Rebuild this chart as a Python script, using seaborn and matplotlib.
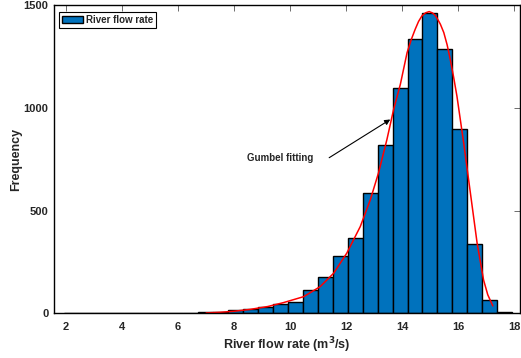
import numpy as np
import pandas as pd
import matplotlib
matplotlib.use("Agg")
import matplotlib.pyplot as plt
import seaborn as sns

# ==========================================
# data
# ==========================================
bin_lo = 1.92
bin_hi = 17.92
n_bins = 30
counts = [0, 0, 1, 0, 0, 0, 1, 1, 2, 4,
          8, 15, 21, 32, 45, 54, 114, 176, 280, 364,
          585, 818, 1094, 1333, 1463, 1288, 899, 336, 63, 8]

# Gumbel fitting curve
fit_x = [7.0, 7.5, 8.0, 8.57, 9.2, 9.76, 10.48, 11.07, 11.55, 12.02,
         12.5, 12.86, 13.15, 13.45, 13.69, 13.93, 14.17, 14.32, 14.46, 14.58,
         14.70, 14.83, 14.96, 15.08, 15.17, 15.24, 15.36, 15.48, 15.60, 15.71,
         15.83, 15.95, 16.19, 16.43, 16.67, 16.90, 17.05, 17.23]
fit_y = [2, 5, 10, 19, 33, 52, 81, 130, 195, 293,
         422, 553, 683, 845, 992, 1114, 1268, 1332, 1382, 1420,
         1447, 1462, 1468, 1461, 1450, 1436, 1406, 1366, 1306, 1236,
         1150, 1056, 829, 585, 341, 162, 90, 36]

x_ticks = [2, 4, 6, 8, 10, 12, 14, 16, 18]
y_ticks = [0, 500, 1000, 1500]

# ==========================================
# style
# ==========================================
sns.set_style("white")
plt.rcParams['font.family'] = ['Liberation Sans', 'DejaVu Sans']
plt.rcParams['font.weight'] = 'bold'
plt.rcParams['axes.labelweight'] = 'bold'

edges = np.linspace(bin_lo, bin_hi, n_bins + 1)
centers = (edges[:-1] + edges[1:]) / 2
df = pd.DataFrame({"flow": centers, "count": counts})
df_fit = pd.DataFrame({"x": fit_x, "y": fit_y})

fig = plt.figure(figsize=(5.21, 3.58), dpi=100)
ax = fig.add_axes([54 / 521, 1 - 313.3 / 358, (520 - 54) / 521, (313.3 - 5) / 358])

sns.histplot(data=df, x="flow", weights="count", bins=n_bins, binrange=(bin_lo, bin_hi),
             ax=ax, color="#0072BD", alpha=1.0, edgecolor="black", linewidth=1.0,
             label="River flow rate")
sns.lineplot(data=df_fit, x="x", y="y", ax=ax, color="red", linewidth=1.1,
             estimator=None, sort=False)

ax.set_xlim(1.57, 18.2)
ax.set_ylim(0, 1500)
ax.set_xticks(x_ticks)
ax.set_yticks(y_ticks)
ax.tick_params(direction="in", length=4, width=0.6, top=True, right=True,
               labelsize=8, color="#555555")
ax.tick_params(axis="x", pad=6)
ax.tick_params(axis="y", pad=4)
for lab in ax.get_xticklabels() + ax.get_yticklabels():
    lab.set_fontweight("bold")
for sp in ax.spines.values():
    sp.set_visible(True)
    sp.set_color("black")
    sp.set_linewidth(1.0)

ax.set_xlabel("River flow rate (m$^\\mathbf{3}$/s)", fontsize=9, fontweight="bold", labelpad=3)
ax.set_ylabel("Frequency", fontsize=9, fontweight="bold", labelpad=1)

ax.annotate("", xy=(13.57, 943), xytext=(11.39, 757),
            arrowprops=dict(arrowstyle="-|>", color="black", lw=0.8,
                            mutation_scale=8, shrinkA=0, shrinkB=0))
ax.text(10.82, 757, "Gumbel fitting", fontsize=7, fontweight="bold",
        ha="right", va="center")

leg = ax.legend(handles=ax.patches[:1], labels=["River flow rate"], loc="upper left",
                bbox_to_anchor=(5 / 466, 1 - 7 / 308), borderaxespad=0,
                fancybox=False, framealpha=1, edgecolor="black",
                borderpad=0.3, handlelength=2.2, handletextpad=0.3,
                prop={"weight": "bold", "size": 7})
leg.get_frame().set_linewidth(0.8)

fig.savefig("out.png", dpi=100)
